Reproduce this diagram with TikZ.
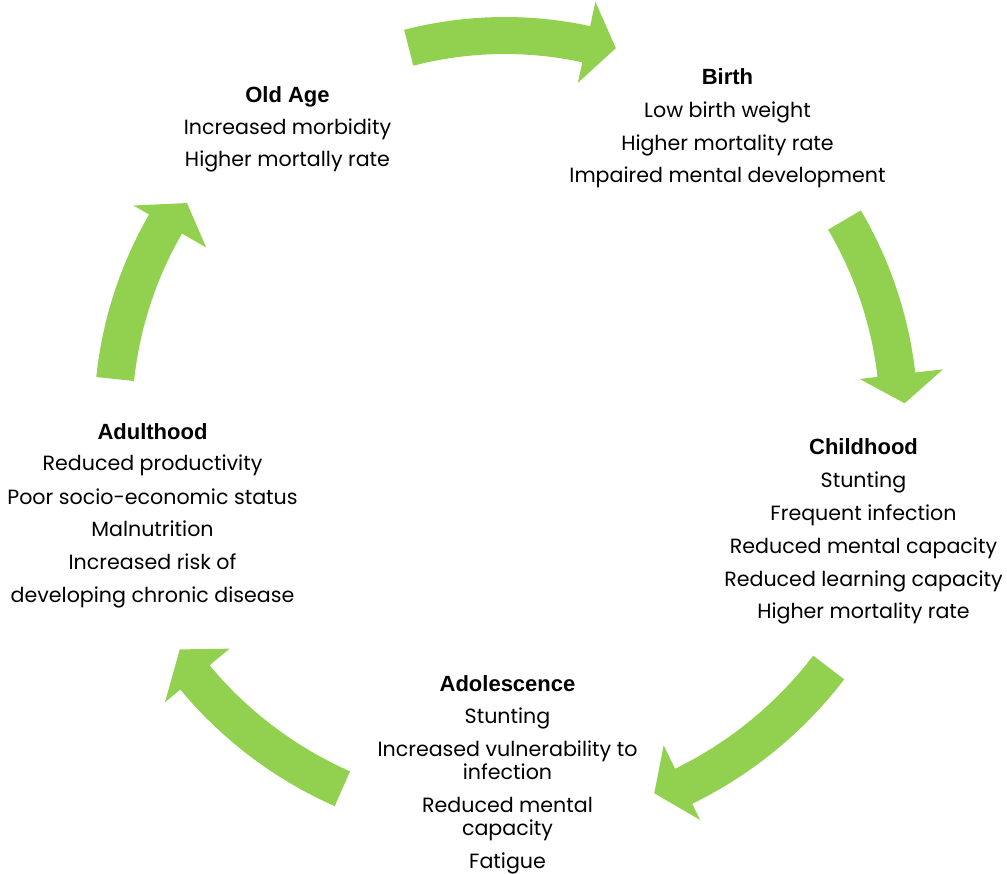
\documentclass[tikz,border=0pt]{standalone}
\usepackage{fontspec}
\setmainfont{Poppins}
\newfontfamily\headfont{Liberation Sans}
\usetikzlibrary{calc}
\definecolor{arrowgreen}{HTML}{92D050}
\newcommand\cyclearrow[8]{%
  \fill[arrowgreen] ($(C)+(#1:#4)$) arc[start angle=#1,end angle=#2,radius=#4]
    -- ($(C)+(#2:#6)$) -- ($(C)+(#3:#8)$) -- ($(C)+(#2:#7)$) -- ($(C)+(#2:#5)$)
    arc[start angle=#2,end angle=#1,radius=#5] -- cycle;}
\begin{document}
\begin{tikzpicture}[x=1pt,y=-1pt,
  body/.style={font=\fontsize{20.6}{24}\selectfont, inner sep=0pt, anchor=base},
  head/.style={font=\headfont\bfseries\fontsize{22}{24}\selectfont, inner sep=0pt, anchor=base}]
\useasboundingbox (0,0) rectangle (1007,874);
\coordinate (C) at (505,420);
% arrows
\cyclearrow{-104.5}{-77.8}{-73.4}{366}{403}{345}{428}{388}
\cyclearrow{-30.5}{-6.6}{-2.4}{375}{413}{357}{441}{400}
\cyclearrow{37.4}{64}{68.2}{388}{427}{362}{445}{402}
\cyclearrow{113.8}{140.3}{144.8}{384}{422}{358}{442}{398}
\cyclearrow{186}{210}{214.3}{373}{411}{345}{429}{385}
% Old Age
\node[head] (oldh) at (287.5,103) {Old Age};
\node[body] (old1) at (287.5,135) {Increased morbidity};
\node[body] (old2) at (287.5,167) {Higher mortally rate};
% Birth
\node[head] (birthh) at (727.5,85) {Birth};
\node[body] (birth1) at (727.5,118) {Low birth weight};
\node[body] (birth2) at (727.5,151) {Higher mortality rate};
\node[body] (birth3) at (727.5,183) {Impaired mental development};
% Childhood
\node[head] (childh) at (863.5,455) {Childhood};
\node[body] (child1) at (863.5,487) {Stunting};
\node[body] (child2) at (863.5,520) {Frequent infection};
\node[body] (child3) at (863.5,553) {Reduced mental capacity};
\node[body] (child4) at (863.5,586) {Reduced learning capacity};
\node[body] (child5) at (863.5,618) {Higher mortality rate};
% Adolescence
\node[head] (adolh) at (507.5,691) {Adolescence};
\node[body] (adol1) at (507.5,723) {Stunting};
\node[body] (adol2) at (507.5,756) {Increased vulnerability to};
\node[body] (adol3) at (507.5,779) {infection};
\node[body] (adol4) at (507.5,812) {Reduced mental};
\node[body] (adol5) at (507.5,835) {capacity};
\node[body] (adol6) at (507.5,868) {Fatigue};
% Adulthood
\node[head] (adulth) at (152.5,439) {Adulthood};
\node[body] (adult1) at (152.5,471) {Reduced productivity};
\node[body] (adult2) at (152.5,504) {Poor socio-economic status};
\node[body] (adult3) at (152.5,536) {Malnutrition};
\node[body] (adult4) at (152.5,569) {Increased risk of};
\node[body] (adult5) at (152.5,602) {developing chronic disease};
\end{tikzpicture}
\end{document}
